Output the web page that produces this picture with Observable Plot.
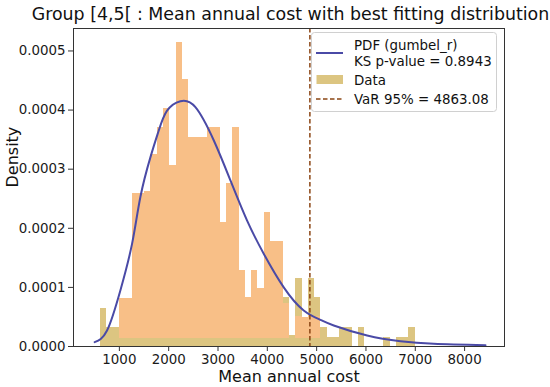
<!DOCTYPE html>
<html>
<head>
<meta charset="utf-8">
<script src="https://cdn.jsdelivr.net/npm/d3@7"></script>
<script src="https://cdn.jsdelivr.net/npm/@observablehq/plot@0.6"></script>
<style>
  html, body { margin: 0; padding: 0; background: #fff; }
  #chart { width: 550px; height: 387px; }
</style>
</head>
<body>
<div id="chart"></div>
<script>
// ---- Data ----
const titleText = "Group [4,5[ : Mean annual cost with best fitting distribution";
const xLabel = "Mean annual cost";
const yLabel = "Density";

// Histogram: 50 equal bins between binLo and binHi
const binLo = 620;
const binHi = 7000;
const binDensity = [
  0.0000648, 0.0000327, 0.0000327, 0.000081, 0.000081,
  0.000259, 0.000259, 0.000262, 0.000324, 0.000371,
  0.000402, 0.000306, 0.000515, 0.000451, 0.000354,
  0.000354, 0.000354, 0.000371, 0.000371, 0.000210,
  0.000275, 0.000371, 0.000129, 0.0000834, 0.000129,
  0.0000976, 0.000226, 0.000178, 0.000178, 0.0000834,
  0.0000186, 0.000115, 0.0000496, 0.000115, 0.0000834,
  0.0000327, 0.0000158, 0.0000158, 0.0000327, 0.0000327,
  0, 0.0000327, 0, 0, 0,
  0.0000158, 0, 0.0000158, 0.0000158, 0.0000327
];
// Orange overlay layer visible in the picture (same bins)
const overlayBase = 0.0000135;
const overlayDensity = [
  0, 0, 0, 0.000081, 0.000081,
  0.000259, 0.000259, 0.000262, 0.000324, 0.000371,
  0.000402, 0.000306, 0.000515, 0.000451, 0.000354,
  0.000354, 0.000354, 0.000371, 0.000371, 0.000210,
  0.000275, 0.000371, 0.000129, 0.0000834, 0.000129,
  0.0000976, 0.000226, 0.000178, 0.000178, 0.0000723,
  0, 0.00005, 0.0000496, 0.000052, 0.00005,
  0, 0, 0, 0, 0,
  0, 0, 0, 0, 0,
  0, 0, 0, 0, 0
];

// Fitted PDF (gumbel_r)
const pdfX = [499, 750, 1020, 1258, 1426, 1629, 1797, 1967, 2237, 2542, 2913, 3252, 3590, 3927, 4333, 4738, 5077, 5347, 6024, 6700, 7375, 8424];
const pdfY = [0.0000073, 0.000027, 0.0000948, 0.000174, 0.000253, 0.000320, 0.000365, 0.000399, 0.000415, 0.000405, 0.000349, 0.000281, 0.000213, 0.000157, 0.000100, 0.0000609, 0.0000451, 0.0000355, 0.0000186, 0.0000090, 0.0000046, 0.0000022];

const varValue = 4863.08;

const xTicks = [1000, 2000, 3000, 4000, 5000, 6000, 7000, 8000];
const yTicks = [0, 0.0001, 0.0002, 0.0003, 0.0004, 0.0005];

const legendLabels = ["PDF (gumbel_r)", "KS p-value = 0.8943", "Data", "VaR 95% = 4863.08"];

// ---- Build tables ----
const binW = (binHi - binLo) / binDensity.length;
const bins = binDensity.map((d, i) => ({x1: binLo + i * binW, x2: binLo + (i + 1) * binW, y: d}));
const overlay = overlayDensity
  .map((d, i) => ({x1: binLo + i * binW, x2: binLo + (i + 1) * binW, y1: overlayBase, y2: d}))
  .filter(d => d.y2 > 0);
const pdf = pdfX.map((x, i) => ({x, y: pdfY[i]}));

const KHAKI = "#dcc581";
const ORANGE = "#f8bf87";
const BLUE = "#4a4aa6";
const BROWN = "#8b4513";
const FONT = "DejaVu Sans";

const chart = Plot.plot({
  width: 550,
  height: 387,
  marginLeft: 73,
  marginRight: 46,
  marginTop: 28,
  marginBottom: 41,
  style: {fontFamily: FONT, fontSize: "13.4px", color: "#1a1a1a", background: "#fff"},
  x: {domain: [70, 8809], label: null},
  y: {domain: [0, 0.000538], label: null},
  marks: [
    Plot.rectY(bins, {x1: "x1", x2: "x2", y: "y", fill: KHAKI, insetLeft: 0, insetRight: 0, shapeRendering: "crispEdges"}),
    Plot.rectY(overlay, {x1: "x1", x2: "x2", y1: "y1", y2: "y2", fill: ORANGE, insetLeft: 0, insetRight: 0, shapeRendering: "crispEdges"}),
    Plot.line(pdf, {x: "x", y: "y", stroke: BLUE, strokeWidth: 2, curve: "natural"}),
    Plot.ruleX([varValue], {stroke: BROWN, strokeWidth: 1.5, strokeDasharray: "4.5,2.5"}),
    Plot.frame({stroke: "#333", strokeWidth: 1}),
    Plot.axisX({ticks: xTicks, tickFormat: d => String(d), tickSize: 5, tickPadding: 3, label: null, fontSize: 13.4, stroke: "#333"}),
    Plot.axisY({ticks: yTicks, tickFormat: d3.format(".4f"), tickSize: 5, tickPadding: 3, label: null, fontSize: 13.4, stroke: "#333"}),
    Plot.text([titleText], {frameAnchor: "top", dy: -14, dx: 1.5, fontSize: 17.4, fill: "#111", lineAnchor: "middle"}),
    Plot.text([xLabel], {frameAnchor: "bottom", dy: 30, fontSize: 16, fill: "#111", lineAnchor: "middle"}),
    Plot.text([yLabel], {frameAnchor: "left", dx: -61, rotate: -90, fontSize: 16, fill: "#111", lineAnchor: "middle"})
  ]
});

// ---- Legend (drawn into the SVG) ----
const svg = d3.select(chart);
const lg = svg.append("g").attr("font-family", FONT).attr("font-size", 13.4)
  .attr("fill", "#111").attr("text-anchor", "start");
lg.append("rect").attr("x", 311.5).attr("y", 32.5).attr("width", 185).attr("height", 79)
  .attr("rx", 3).attr("fill", "#fff").attr("fill-opacity", 0.85).attr("stroke", "#d0d0d0");
lg.append("line").attr("x1", 316).attr("x2", 343).attr("y1", 53).attr("y2", 53)
  .attr("stroke", BLUE).attr("stroke-width", 2);
lg.append("text").attr("x", 354).attr("y", 45).attr("dy", "0.35em").text(legendLabels[0]);
lg.append("text").attr("x", 354).attr("y", 61).attr("dy", "0.35em").text(legendLabels[1]);
lg.append("rect").attr("x", 316.5).attr("y", 75).attr("width", 26.5).attr("height", 9).attr("fill", KHAKI);
lg.append("text").attr("x", 354).attr("y", 80).attr("dy", "0.35em").text(legendLabels[2]);
lg.append("line").attr("x1", 316).attr("x2", 343).attr("y1", 99).attr("y2", 99)
  .attr("stroke", BROWN).attr("stroke-width", 1.5).attr("stroke-dasharray", "4.5,2.5");
lg.append("text").attr("x", 354).attr("y", 99).attr("dy", "0.35em").text(legendLabels[3]);

document.getElementById("chart").appendChild(chart);
</script>
</body>
</html>
